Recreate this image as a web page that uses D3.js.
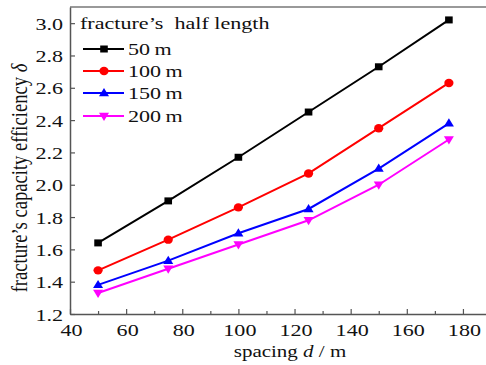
<!DOCTYPE html>
<html>
<head>
<meta charset="utf-8">
<script src="https://cdn.jsdelivr.net/npm/d3@7"></script>
<style>
  body { margin: 0; background: #fff; }
  svg text { font-family: "Liberation Serif", "Times New Roman", serif; }
</style>
</head>
<body>
<script>
// spacing d (m)
var spacing = [50, 75, 100, 125, 150, 175];
var names = ["50 m", "100 m", "150 m", "200 m"];
var colors = ["#000000", "#ff0000", "#0000ff", "#ff00ff"];
var symbols = ["square", "circle", "triUp", "triDown"];
var eff50 = [1.64, 1.90, 2.17, 2.45, 2.73, 3.02];
var eff100 = [1.47, 1.66, 1.86, 2.07, 2.35, 2.63];
var eff150 = [1.38, 1.53, 1.70, 1.85, 2.10, 2.38];
var eff200 = [1.33, 1.48, 1.63, 1.78, 2.00, 2.28];
var xTicks = [40, 60, 80, 100, 120, 140, 160, 180];
var yTicks = [1.2, 1.4, 1.6, 1.8, 2.0, 2.2, 2.4, 2.6, 2.8, 3.0];

var series = [eff50, eff100, eff150, eff200].map(function (vals, i) {
  return { name: names[i], color: colors[i], sym: symbols[i],
    pts: vals.map(function (v, j) { return { x: spacing[j], y: v }; }) };
});

var width = 486, height = 365;
var sx = 1.3; // the source picture is stretched sideways, so text is too
var x = d3.scaleLinear().domain([40, 190]).range([70, 491]);
var y = d3.scaleLinear().domain([1.2, 3.1]).range([314, 7]);

var svg = d3.select("body").append("svg")
  .attr("width", width).attr("height", height);

// frame (top edge; right side is cut off)
svg.append("line").attr("x1", x(40)).attr("x2", width)
  .attr("y1", y(3.1)).attr("y2", y(3.1))
  .attr("stroke", "#777").attr("stroke-width", 1.5);

var xAxis = svg.append("g").attr("transform", "translate(0," + y(1.2) + ")")
  .call(d3.axisBottom(x).tickValues(xTicks).tickSizeInner(-5).tickSizeOuter(0));
var xMinor = svg.append("g").attr("transform", "translate(0," + y(1.2) + ")")
  .call(d3.axisBottom(x).tickValues([50, 70, 90, 110, 130, 150, 170, 190]).tickSize(-3).tickFormat(""));
xMinor.select(".domain").remove();

var yAxis = svg.append("g").attr("transform", "translate(" + x(40) + ",0)")
  .call(d3.axisLeft(y).tickValues(yTicks).tickFormat(d3.format(".1f"))
    .tickSizeInner(-5).tickSizeOuter(0));

svg.selectAll("g").attr("font-family", null);
svg.selectAll(".domain").attr("stroke", "#555").attr("stroke-width", 1.5);
svg.selectAll(".tick line").attr("stroke", "#555").attr("stroke-width", 1.2);
svg.selectAll(".tick text").attr("font-size", 17).attr("fill", "#111");
xAxis.selectAll(".tick text").attr("y", 0).attr("dy", null)
  .attr("transform", "translate(1,22) scale(" + sx + ",1)");
yAxis.selectAll(".tick text").attr("x", 0).attr("dy", null)
  .attr("transform", "translate(-7,6) scale(" + sx + ",1)");

// axis titles
var xt = svg.append("text").attr("transform", "translate(290,357) scale(" + sx * 0.95 + ",1)")
  .attr("text-anchor", "middle").attr("font-size", 17).attr("fill", "#111");
xt.append("tspan").text("spacing ");
xt.append("tspan").attr("font-style", "italic").text("d");
xt.append("tspan").text(" / m");

var yt = svg.append("text")
  .attr("transform", "translate(27,178) scale(1.25,1) rotate(-90)")
  .attr("text-anchor", "middle").attr("font-size", 18.6).attr("fill", "#111");
yt.append("tspan").text("fracture\u2019s capacity efficiency ");
yt.append("tspan").attr("font-style", "italic").text("\u03b4");

function marker(g, sym, color) {
  if (sym === "square") {
    g.append("rect").attr("x", -3.8).attr("y", -3.5).attr("width", 7.6).attr("height", 7).attr("fill", color);
  } else if (sym === "circle") {
    g.append("ellipse").attr("rx", 4.6).attr("ry", 4.2).attr("fill", color);
  } else if (sym === "triUp") {
    g.append("path").attr("d", "M0,-5L5,3.2L-5,3.2Z").attr("fill", color);
  } else {
    g.append("path").attr("d", "M0,5L5,-3.2L-5,-3.2Z").attr("fill", color);
  }
}

var line = d3.line().x(function (d) { return x(d.x); }).y(function (d) { return y(d.y); });

series.forEach(function (s) {
  svg.append("path").attr("d", line(s.pts)).attr("fill", "none")
    .attr("stroke", s.color).attr("stroke-width", 2);
  s.pts.forEach(function (p) {
    var g = svg.append("g").attr("transform", "translate(" + x(p.x) + "," + y(p.y) + ")");
    marker(g, s.sym, s.color);
  });
});

// legend
svg.append("text").attr("transform", "translate(80,29) scale(" + sx + ",1)")
  .attr("font-size", 17).attr("fill", "#111")
  .attr("xml:space", "preserve").text("fracture\u2019s  half length");
var rows = [49, 71, 93, 116];
series.forEach(function (s, i) {
  var g = svg.append("g").attr("transform", "translate(0," + rows[i] + ")");
  g.append("line").attr("x1", 83).attr("x2", 124).attr("stroke", s.color).attr("stroke-width", 2);
  var m = g.append("g").attr("transform", "translate(104,0)");
  marker(m, s.sym, s.color);
  g.append("text").attr("transform", "translate(128,6) scale(" + sx + ",1)")
    .attr("font-size", 17).attr("fill", "#111")
    .text(s.name.replace(" ", "\u2009"));
});
</script>
</body>
</html>
